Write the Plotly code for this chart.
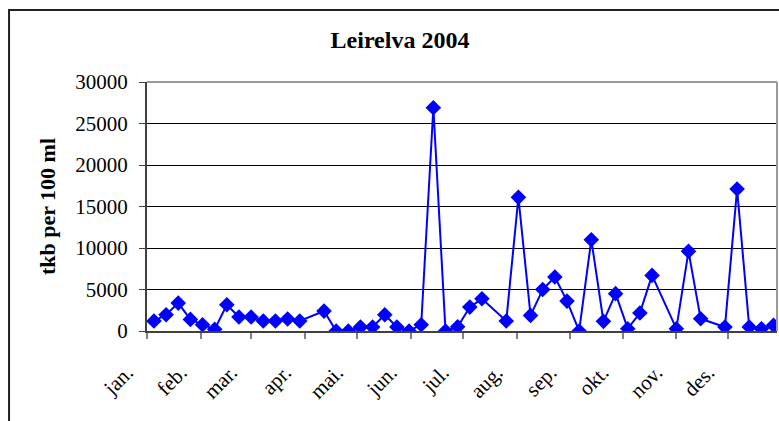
import plotly.graph_objects as go

# Sampling dates (2004) and values (tkb per 100 ml)
dates = [
    "2004-01-05", "2004-01-12", "2004-01-19", "2004-01-26", "2004-02-02", "2004-02-09",
    "2004-02-16", "2004-02-23", "2004-03-01", "2004-03-08", "2004-03-15", "2004-03-22",
    "2004-03-29", "2004-04-12", "2004-04-19", "2004-04-26", "2004-05-03", "2004-05-10",
    "2004-05-17", "2004-05-24", "2004-05-31", "2004-06-07", "2004-06-14", "2004-06-21",
    "2004-06-28", "2004-07-05", "2004-07-12", "2004-07-26", "2004-08-02", "2004-08-09",
    "2004-08-16", "2004-08-23", "2004-08-30", "2004-09-06", "2004-09-13", "2004-09-20",
    "2004-09-27", "2004-10-04", "2004-10-11", "2004-10-18", "2004-11-01", "2004-11-08",
    "2004-11-15", "2004-11-29", "2004-12-06", "2004-12-13", "2004-12-20", "2004-12-27",
]
values = [
    1200, 1960, 3360, 1400, 760, 200,
    3160, 1680, 1680, 1200, 1200, 1440,
    1200, 2400, 0, 0, 480, 480,
    1960, 480, 0, 760, 26900, 0,
    500, 2880, 3880, 1200, 16100, 1880,
    5000, 6500, 3600, 0, 11000, 1160,
    4500, 280, 2160, 6700, 280, 9600,
    1480, 480, 17100, 480, 280, 680,
]

month_starts = [
    "2004-01-01", "2004-02-01", "2004-03-01", "2004-04-01", "2004-05-01", "2004-06-01",
    "2004-07-01", "2004-08-01", "2004-09-01", "2004-10-01", "2004-11-01", "2004-12-01",
]
month_labels = ["jan.", "feb.", "mar.", "apr.", "mai.", "jun.",
                "jul.", "aug.", "sep.", "okt.", "nov.", "des."]

title_text = "Leirelva 2004"
y_title = "tkb per 100 ml"
y_ticks = [0, 5000, 10000, 15000, 20000, 25000, 30000]
y_ticklabels = ["0", "5000", "10000", "15000", "20000", "25000", "30000"]

serif = "Liberation Serif, Times New Roman, serif"

fig = go.Figure()
fig.add_trace(go.Scatter(
    x=dates, y=values, mode="lines+markers",
    line=dict(color="#0000FF", width=2),
    marker=dict(symbol="diamond", size=12, color="#0000FF"),
    showlegend=False,
))

fig.update_layout(
    width=779, height=421,
    margin=dict(l=147, r=2, t=82, b=90),
    paper_bgcolor="white", plot_bgcolor="white",
    title=dict(text=f"<b>{title_text}</b>", x=400 / 779, xref="container", xanchor="center",
               y=1 - 40 / 421, yref="container", yanchor="middle",
               font=dict(family=serif, size=24, color="black")),
    font=dict(family=serif, color="black"),
    xaxis=dict(
        type="date",
        range=["2004-01-01", "2004-12-29"],
        tickmode="array", tickvals=month_starts, ticktext=month_labels,
        tickangle=-45, tickfont=dict(family=serif, size=21, color="black"),
        ticks="outside", ticklen=6, tickcolor="#808080", tickwidth=2,
        showline=True, linecolor="#404040", linewidth=2,
        showgrid=False, zeroline=False, automargin=False,
        ticklabelstandoff=13, ticklabelshift=-20,
    ),
    yaxis=dict(
        range=[0, 30000], tickmode="array", tickvals=y_ticks, ticktext=y_ticklabels,
        tickfont=dict(family=serif, size=21, color="black"),
        ticks="outside", ticklen=6, tickcolor="#404040", tickwidth=1,
        showline=True, linecolor="#404040", linewidth=2,
        showgrid=True, gridcolor="black", gridwidth=1,
        zeroline=False, automargin=False, ticklabelstandoff=7,
        title=dict(text=f"<b>{y_title}</b>", font=dict(family=serif, size=22, color="black"),
                   standoff=14),
    ),
    shapes=[
        # plot-area border (top and right)
        dict(type="line", xref="paper", yref="paper", x0=0, x1=1, y0=1, y1=1,
             line=dict(color="#9a9a9a", width=2)),
        dict(type="line", xref="paper", yref="paper", x0=1, x1=1, y0=0, y1=1,
             line=dict(color="#9a9a9a", width=2)),
        # outer chart frame
        dict(type="rect", xref="paper", yref="paper", x0=-0.219, x1=1.03, y0=-0.42, y1=1.289,
             line=dict(color="#222222", width=2)),
    ],
)

fig.write_html("out.html", config={"displayModeBar": False},
               post_script="document.body.style.margin='0';")
